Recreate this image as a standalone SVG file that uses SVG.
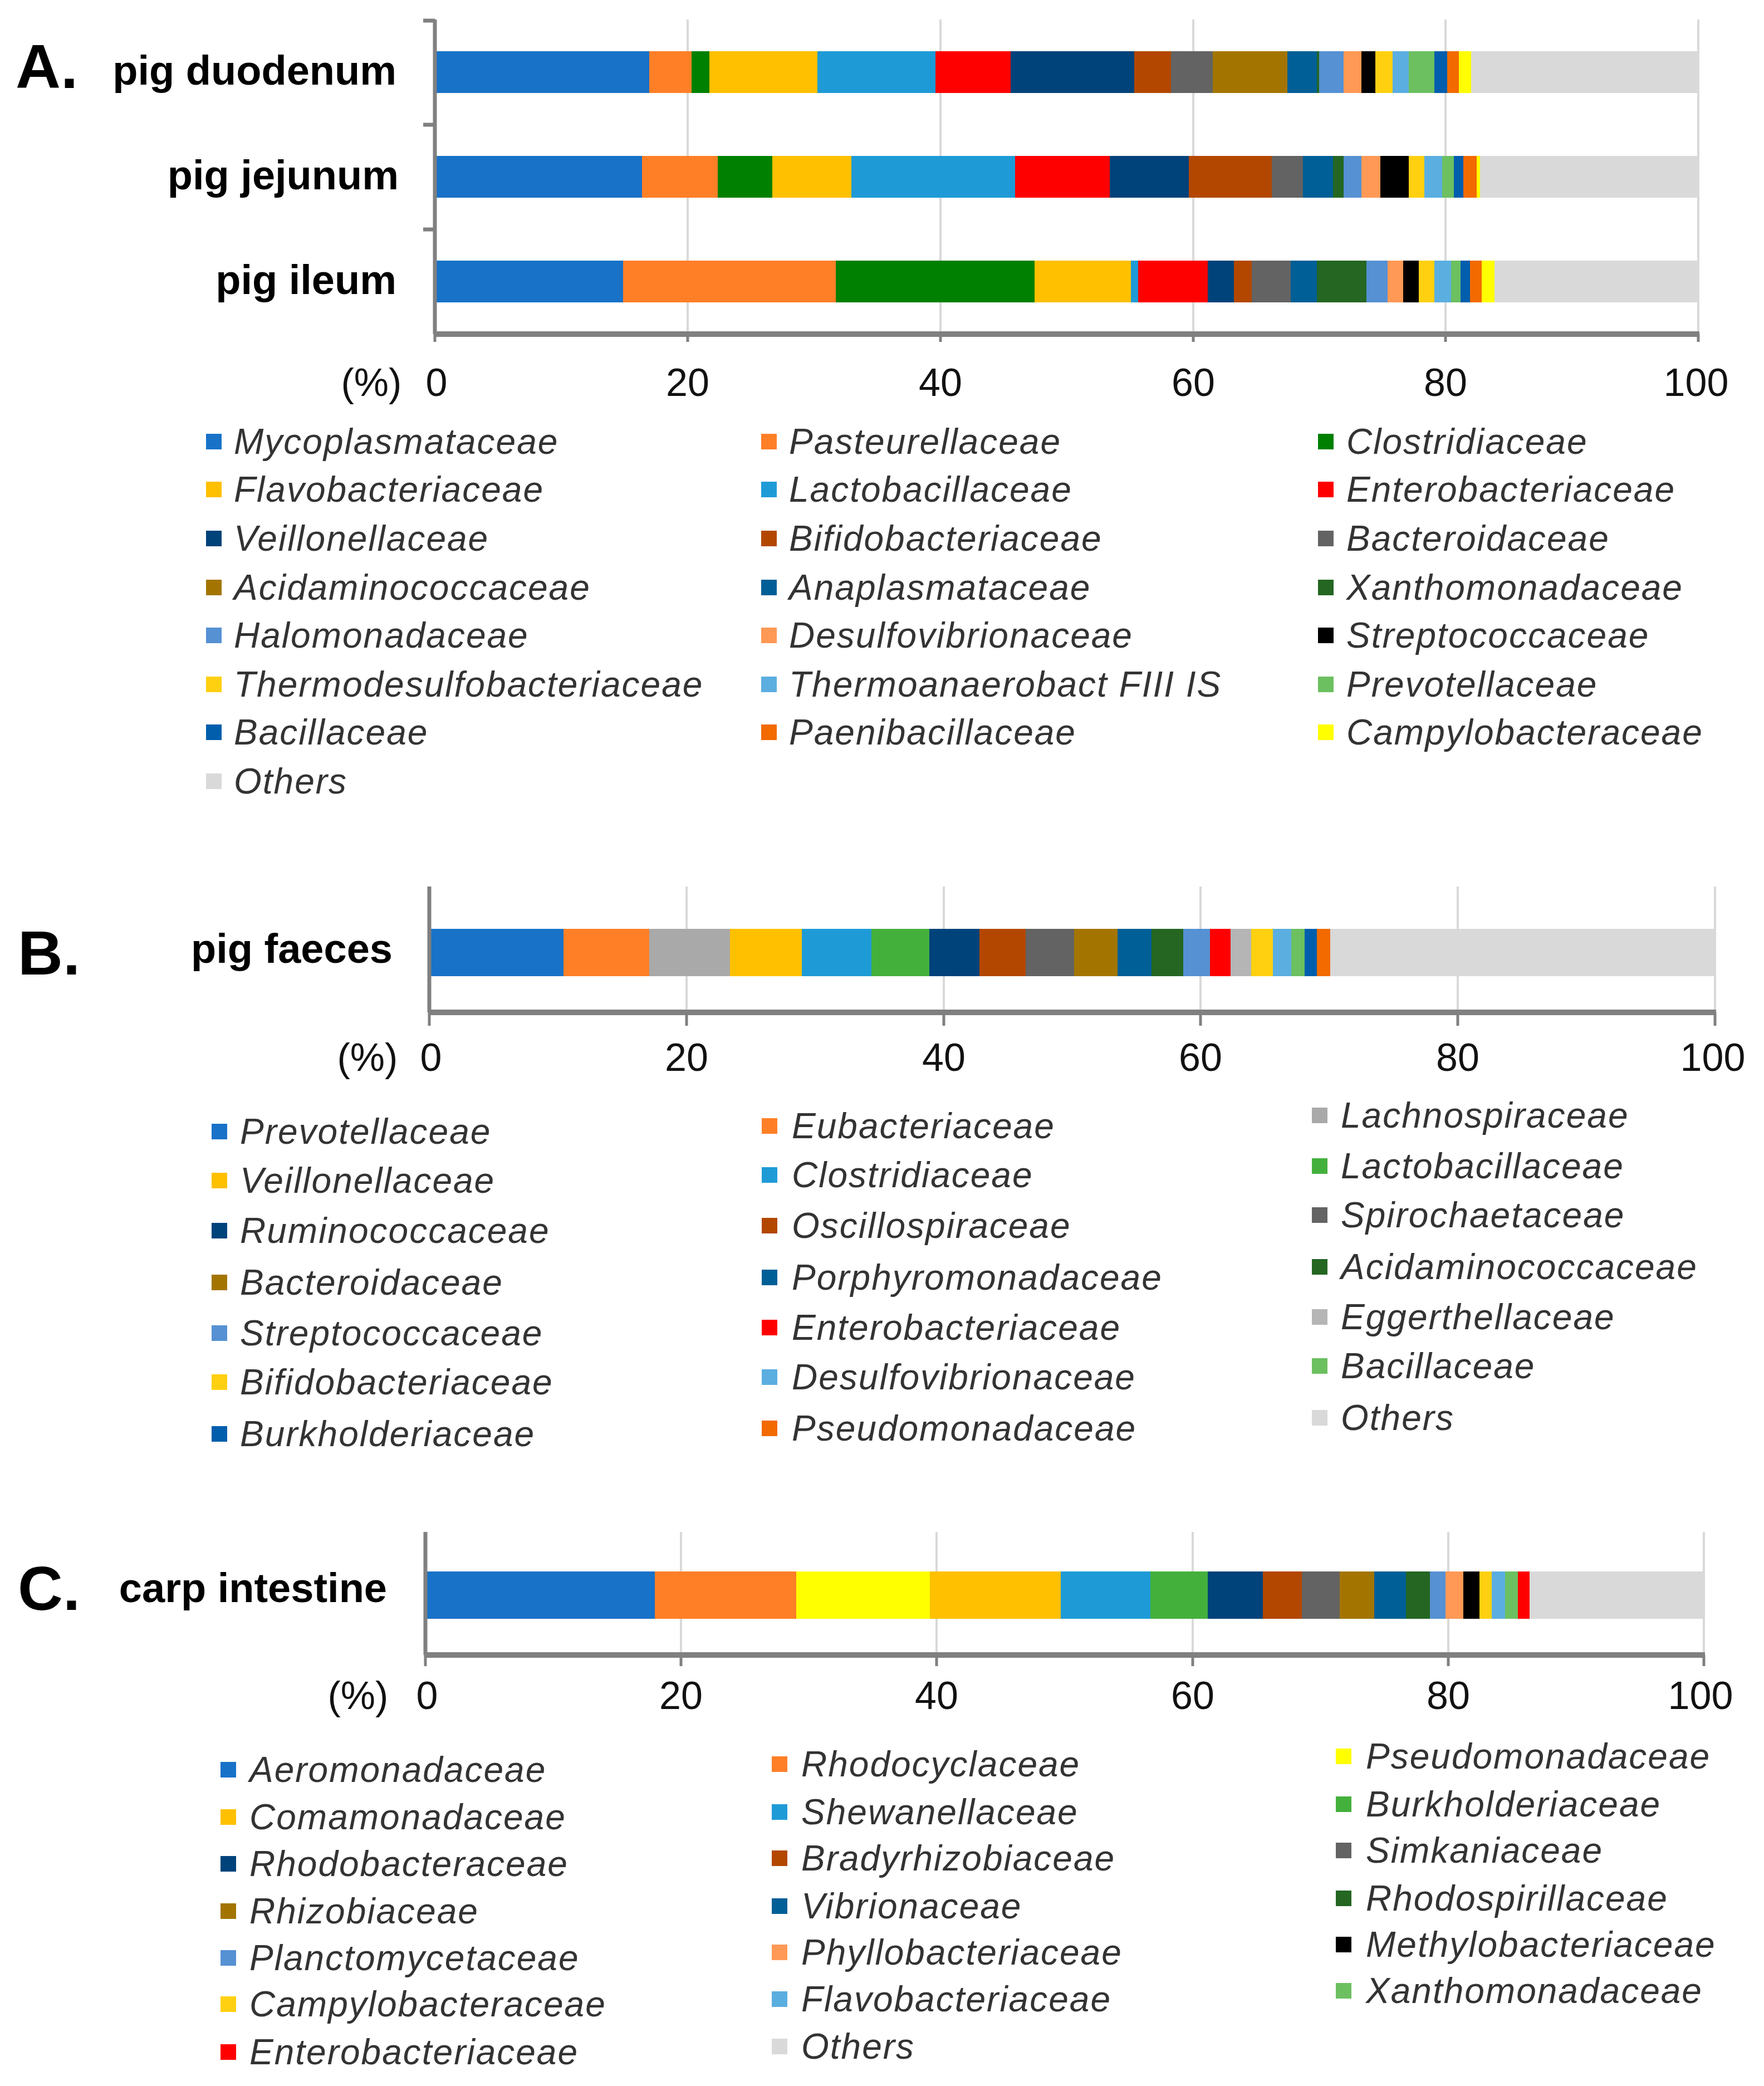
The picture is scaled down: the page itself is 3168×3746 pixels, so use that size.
<svg xmlns="http://www.w3.org/2000/svg" width="3168" height="3746" viewBox="0 0 3168 3746">
<style>
.t{font-family:"Liberation Sans",Arial,sans-serif;fill:#000}
.lab{font-size:74px;font-weight:bold;text-anchor:end}
.big{font-size:112px;font-weight:bold}
.tk{font-size:70px;text-anchor:middle;fill:#111}
.lg{font-family:"Liberation Sans",Arial,sans-serif;font-size:64px;font-style:italic;fill:#333;letter-spacing:2px}
.grid{stroke:#D9D9D9;stroke-width:4}
.ax{stroke:#808080;fill:none}
.a{fill:#1872C8}.b{fill:#FF7F27}.c{fill:#008000}.d{fill:#FFC000}.e{fill:#1E9BD7}.f{fill:#FF0000}.g{fill:#00427A}.h{fill:#B34700}.i{fill:#636363}.j{fill:#A37500}.k{fill:#005F96}.l{fill:#246622}.m{fill:#5591D3}.n{fill:#FF9955}.o{fill:#000}.p{fill:#FFD010}.q{fill:#5BAEE0}.r{fill:#6CC060}.s{fill:#005EAD}.u{fill:#F26A00}.v{fill:#FFFF00}.w{fill:#D9D9D9}.x{fill:#A9A9A9}.y{fill:#44B03C}.z{fill:#B5B5B5}
</style>
<rect width="3168" height="3746" fill="#fff"/>

<g id="panelA">
<g id="gridA">
<line class="grid" x1="1235" y1="35" x2="1235" y2="598"/><line class="grid" x1="1689" y1="35" x2="1689" y2="598"/><line class="grid" x1="2143" y1="35" x2="2143" y2="598"/><line class="grid" x1="2596" y1="35" x2="2596" y2="598"/><line class="grid" x1="3050" y1="35" x2="3050" y2="598"/>
</g>
<g id="barsA" transform="translate(781,0) scale(22.69,1)" shape-rendering="crispEdges">
<g transform="translate(0,92)">
<rect class="a" x="0" width="16.97" height="75"/><rect class="b" x="16.97" width="3.35" height="75"/><rect class="c" x="20.32" width="1.42" height="75"/><rect class="d" x="21.74" width="8.52" height="75"/><rect class="e" x="30.26" width="9.35" height="75"/><rect class="f" x="39.61" width="5.94" height="75"/><rect class="g" x="45.55" width="9.8" height="75"/><rect class="h" x="55.35" width="2.91" height="75"/><rect class="i" x="58.26" width="3.29" height="75"/><rect class="j" x="61.55" width="5.93" height="75"/><rect class="k" x="67.48" width="2.33" height="75"/><rect class="l" x="69.81" width="0.19" height="75"/><rect class="m" x="70" width="1.94" height="75"/><rect class="n" x="71.94" width="1.41" height="75"/><rect class="o" x="73.35" width="1.1" height="75"/><rect class="p" x="74.45" width="1.36" height="75"/><rect class="q" x="75.81" width="1.29" height="75"/><rect class="r" x="77.1" width="2" height="75"/><rect class="s" x="79.1" width="1.03" height="75"/><rect class="u" x="80.13" width="0.9" height="75"/><rect class="v" x="81.03" width="0.97" height="75"/><rect class="w" x="82" width="18" height="75"/>
</g>
<g transform="translate(0,280)">
<rect class="a" x="0" width="16.39" height="75"/><rect class="b" x="16.39" width="6" height="75"/><rect class="c" x="22.39" width="4.32" height="75"/><rect class="d" x="26.71" width="6.26" height="75"/><rect class="e" x="32.97" width="12.97" height="75"/><rect class="f" x="45.94" width="7.48" height="75"/><rect class="g" x="53.42" width="6.26" height="75"/><rect class="h" x="59.68" width="6.58" height="75"/><rect class="i" x="66.26" width="2.45" height="75"/><rect class="k" x="68.71" width="2.39" height="75"/><rect class="l" x="71.1" width="0.84" height="75"/><rect class="m" x="71.94" width="1.41" height="75"/><rect class="n" x="73.35" width="1.49" height="75"/><rect class="o" x="74.84" width="2.26" height="75"/><rect class="p" x="77.1" width="1.22" height="75"/><rect class="q" x="78.32" width="1.42" height="75"/><rect class="r" x="79.74" width="0.91" height="75"/><rect class="s" x="80.65" width="0.77" height="75"/><rect class="u" x="81.42" width="1.03" height="75"/><rect class="v" x="82.45" width="0.26" height="75"/><rect class="w" x="82.71" width="17.29" height="75"/>
</g>
<g transform="translate(0,468)">
<rect class="a" x="0" width="14.9" height="75"/><rect class="b" x="14.9" width="16.84" height="75"/><rect class="c" x="31.74" width="15.74" height="75"/><rect class="d" x="47.48" width="7.62" height="75"/><rect class="e" x="55.1" width="0.58" height="75"/><rect class="f" x="55.68" width="5.48" height="75"/><rect class="g" x="61.16" width="2.07" height="75"/><rect class="h" x="63.23" width="1.42" height="75"/><rect class="i" x="64.65" width="3.09" height="75"/><rect class="k" x="67.74" width="2.07" height="75"/><rect class="l" x="69.81" width="3.93" height="75"/><rect class="m" x="73.74" width="1.68" height="75"/><rect class="n" x="75.42" width="1.23" height="75"/><rect class="o" x="76.65" width="1.22" height="75"/><rect class="p" x="77.87" width="1.23" height="75"/><rect class="q" x="79.1" width="1.35" height="75"/><rect class="r" x="80.45" width="0.71" height="75"/><rect class="s" x="81.16" width="0.78" height="75"/><rect class="u" x="81.94" width="0.9" height="75"/><rect class="v" x="82.84" width="1.03" height="75"/><rect class="w" x="83.87" width="16.13" height="75"/>
</g>
</g>
<g id="axesA">
<path class="ax" stroke-width="7" d="M781 35 V600 M760 37 H781 M760 224 H781 M760 412 H781"/>
<path class="ax" stroke-width="10" d="M781 600 H3052"/>
<path class="ax" stroke-width="5" d="M781 600 V614 M1235 600 V614 M1689 600 V614 M2143 600 V614 M2596 600 V614 M3050 600 V614"/>
</g>
<text class="t big" x="28" y="158">A.</text>
<text class="t lab" x="712" y="152">pig duodenum</text>
<text class="t lab" x="716" y="340">pig jejunum</text>
<text class="t lab" x="712" y="528">pig ileum</text>
<g id="ticksA">
<text class="t tk" x="667" y="711">(%)</text>
<text class="t tk" x="784" y="711">0</text><text class="t tk" x="1235" y="711">20</text><text class="t tk" x="1689" y="711">40</text><text class="t tk" x="2143" y="711">60</text><text class="t tk" x="2596" y="711">80</text><text class="t tk" x="3046" y="711">100</text>
</g>
<g id="legendA">
<rect class="a" x="370" y="779" width="28" height="28"/><text class="lg" x="420" y="815">Mycoplasmataceae</text>
<rect class="d" x="370" y="865" width="28" height="28"/><text class="lg" x="420" y="901">Flavobacteriaceae</text>
<rect class="g" x="370" y="953" width="28" height="28"/><text class="lg" x="420" y="989">Veillonellaceae</text>
<rect class="j" x="370" y="1041" width="28" height="28"/><text class="lg" x="420" y="1077">Acidaminococcaceae</text>
<rect class="m" x="370" y="1127" width="28" height="28"/><text class="lg" x="420" y="1163">Halomonadaceae</text>
<rect class="p" x="370" y="1215" width="28" height="28"/><text class="lg" x="420" y="1251">Thermodesulfobacteriaceae</text>
<rect class="s" x="370" y="1301" width="28" height="28"/><text class="lg" x="420" y="1337">Bacillaceae</text>
<rect class="w" x="370" y="1389" width="28" height="28"/><text class="lg" x="420" y="1425">Others</text>
<rect class="b" x="1367" y="779" width="28" height="28"/><text class="lg" x="1417" y="815">Pasteurellaceae</text>
<rect class="e" x="1367" y="865" width="28" height="28"/><text class="lg" x="1417" y="901">Lactobacillaceae</text>
<rect class="h" x="1367" y="953" width="28" height="28"/><text class="lg" x="1417" y="989">Bifidobacteriaceae</text>
<rect class="k" x="1367" y="1041" width="28" height="28"/><text class="lg" x="1417" y="1077">Anaplasmataceae</text>
<rect class="n" x="1367" y="1127" width="28" height="28"/><text class="lg" x="1417" y="1163">Desulfovibrionaceae</text>
<rect class="q" x="1367" y="1215" width="28" height="28"/><text class="lg" x="1417" y="1251">Thermoanaerobact FIII IS</text>
<rect class="u" x="1367" y="1301" width="28" height="28"/><text class="lg" x="1417" y="1337">Paenibacillaceae</text>
<rect class="c" x="2367" y="779" width="28" height="28"/><text class="lg" x="2418" y="815">Clostridiaceae</text>
<rect class="f" x="2367" y="865" width="28" height="28"/><text class="lg" x="2418" y="901">Enterobacteriaceae</text>
<rect class="i" x="2367" y="953" width="28" height="28"/><text class="lg" x="2418" y="989">Bacteroidaceae</text>
<rect class="l" x="2367" y="1041" width="28" height="28"/><text class="lg" x="2418" y="1077">Xanthomonadaceae</text>
<rect class="o" x="2367" y="1127" width="28" height="28"/><text class="lg" x="2418" y="1163">Streptococcaceae</text>
<rect class="r" x="2367" y="1215" width="28" height="28"/><text class="lg" x="2418" y="1251">Prevotellaceae</text>
<rect class="v" x="2367" y="1301" width="28" height="28"/><text class="lg" x="2418" y="1337">Campylobacteraceae</text>
</g>
</g>

<g id="panelB">
<g id="gridB">
<line class="grid" x1="1233" y1="1592" x2="1233" y2="1815"/><line class="grid" x1="1695" y1="1592" x2="1695" y2="1815"/><line class="grid" x1="2156" y1="1592" x2="2156" y2="1815"/><line class="grid" x1="2618" y1="1592" x2="2618" y2="1815"/><line class="grid" x1="3080" y1="1592" x2="3080" y2="1815"/>
</g>
<g id="barsB" transform="translate(771,1668) scale(23.09,1)" shape-rendering="crispEdges">
<rect class="a" x="0" width="10.45" height="85"/><rect class="b" x="10.45" width="6.65" height="85"/><rect class="x" x="17.1" width="6.3" height="85"/><rect class="d" x="23.4" width="5.57" height="85"/><rect class="e" x="28.97" width="5.42" height="85"/><rect class="y" x="34.39" width="4.51" height="85"/><rect class="g" x="38.9" width="3.87" height="85"/><rect class="h" x="42.77" width="3.62" height="85"/><rect class="i" x="46.39" width="3.74" height="85"/><rect class="j" x="50.13" width="3.42" height="85"/><rect class="k" x="53.55" width="2.64" height="85"/><rect class="l" x="56.19" width="2.46" height="85"/><rect class="m" x="58.65" width="2.06" height="85"/><rect class="f" x="60.71" width="1.61" height="85"/><rect class="z" x="62.32" width="1.62" height="85"/><rect class="p" x="63.94" width="1.67" height="85"/><rect class="q" x="65.61" width="1.42" height="85"/><rect class="r" x="67.03" width="1.03" height="85"/><rect class="s" x="68.06" width="0.97" height="85"/><rect class="u" x="69.03" width="1.03" height="85"/><rect class="w" x="70.06" width="29.94" height="85"/>
</g>
<g id="axesB">
<path class="ax" stroke-width="7" d="M771 1592 V1818"/>
<path class="ax" stroke-width="10" d="M771 1818 H3082"/>
<path class="ax" stroke-width="5" d="M771 1818 V1842 M1233 1818 V1842 M1695 1818 V1842 M2156 1818 V1842 M2618 1818 V1842 M3080 1818 V1842"/>
</g>
<text class="t big" x="32" y="1750">B.</text>
<text class="t lab" x="705" y="1729">pig faeces</text>
<g id="ticksB">
<text class="t tk" x="660" y="1923">(%)</text>
<text class="t tk" x="774" y="1923">0</text><text class="t tk" x="1233" y="1923">20</text><text class="t tk" x="1695" y="1923">40</text><text class="t tk" x="2156" y="1923">60</text><text class="t tk" x="2618" y="1923">80</text><text class="t tk" x="3076" y="1923">100</text>
</g>
<g id="legendB">
<rect class="a" x="380" y="2018" width="28" height="28"/><text class="lg" x="431" y="2054">Prevotellaceae</text>
<rect class="d" x="380" y="2106" width="28" height="28"/><text class="lg" x="431" y="2142">Veillonellaceae</text>
<rect class="g" x="380" y="2196" width="28" height="28"/><text class="lg" x="431" y="2232">Ruminococcaceae</text>
<rect class="j" x="380" y="2289" width="28" height="28"/><text class="lg" x="431" y="2325">Bacteroidaceae</text>
<rect class="m" x="380" y="2380" width="28" height="28"/><text class="lg" x="431" y="2416">Streptococcaceae</text>
<rect class="p" x="380" y="2468" width="28" height="28"/><text class="lg" x="431" y="2504">Bifidobacteriaceae</text>
<rect class="s" x="380" y="2561" width="28" height="28"/><text class="lg" x="431" y="2597">Burkholderiaceae</text>
<rect class="b" x="1368" y="2008" width="28" height="28"/><text class="lg" x="1422" y="2044">Eubacteriaceae</text>
<rect class="e" x="1368" y="2096" width="28" height="28"/><text class="lg" x="1422" y="2132">Clostridiaceae</text>
<rect class="h" x="1368" y="2187" width="28" height="28"/><text class="lg" x="1422" y="2223">Oscillospiraceae</text>
<rect class="k" x="1368" y="2280" width="28" height="28"/><text class="lg" x="1422" y="2316">Porphyromonadaceae</text>
<rect class="f" x="1368" y="2370" width="28" height="28"/><text class="lg" x="1422" y="2406">Enterobacteriaceae</text>
<rect class="q" x="1368" y="2459" width="28" height="28"/><text class="lg" x="1422" y="2495">Desulfovibrionaceae</text>
<rect class="u" x="1368" y="2551" width="28" height="28"/><text class="lg" x="1422" y="2587">Pseudomonadaceae</text>
<rect class="x" x="2356" y="1989" width="28" height="28"/><text class="lg" x="2408" y="2025">Lachnospiraceae</text>
<rect class="y" x="2356" y="2080" width="28" height="28"/><text class="lg" x="2408" y="2116">Lactobacillaceae</text>
<rect class="i" x="2356" y="2168" width="28" height="28"/><text class="lg" x="2408" y="2204">Spirochaetaceae</text>
<rect class="l" x="2356" y="2261" width="28" height="28"/><text class="lg" x="2408" y="2297">Acidaminococcaceae</text>
<rect class="z" x="2356" y="2351" width="28" height="28"/><text class="lg" x="2408" y="2387">Eggerthellaceae</text>
<rect class="r" x="2356" y="2439" width="28" height="28"/><text class="lg" x="2408" y="2475">Bacillaceae</text>
<rect class="w" x="2356" y="2532" width="28" height="28"/><text class="lg" x="2408" y="2568">Others</text>
</g>
</g>

<g id="panelC">
<g id="gridC">
<line class="grid" x1="1223" y1="2751" x2="1223" y2="2968"/><line class="grid" x1="1682" y1="2751" x2="1682" y2="2968"/><line class="grid" x1="2142" y1="2751" x2="2142" y2="2968"/><line class="grid" x1="2601" y1="2751" x2="2601" y2="2968"/><line class="grid" x1="3060" y1="2751" x2="3060" y2="2968"/>
</g>
<g id="barsC" transform="translate(764,2822) scale(22.96,1)" shape-rendering="crispEdges">
<rect class="a" x="0" width="17.96" height="85"/><rect class="b" x="17.96" width="11.04" height="85"/><rect class="v" x="29" width="10.47" height="85"/><rect class="d" x="39.47" width="10.21" height="85"/><rect class="e" x="49.68" width="7.04" height="85"/><rect class="y" x="56.72" width="4.46" height="85"/><rect class="g" x="61.18" width="4.32" height="85"/><rect class="h" x="65.5" width="3.04" height="85"/><rect class="i" x="68.54" width="2.97" height="85"/><rect class="j" x="71.51" width="2.71" height="85"/><rect class="k" x="74.22" width="2.46" height="85"/><rect class="l" x="76.68" width="1.87" height="85"/><rect class="m" x="78.55" width="1.23" height="85"/><rect class="n" x="79.78" width="1.42" height="85"/><rect class="o" x="81.2" width="1.23" height="85"/><rect class="p" x="82.43" width="0.97" height="85"/><rect class="q" x="83.4" width="1.03" height="85"/><rect class="r" x="84.43" width="1.04" height="85"/><rect class="f" x="85.47" width="0.9" height="85"/><rect class="w" x="86.37" width="13.63" height="85"/>
</g>
<g id="axesC">
<path class="ax" stroke-width="7" d="M764 2751 V2972"/>
<path class="ax" stroke-width="10" d="M764 2972 H3062"/>
<path class="ax" stroke-width="5" d="M764 2972 V2992 M1223 2972 V2992 M1682 2972 V2992 M2142 2972 V2992 M2601 2972 V2992 M3060 2972 V2992"/>
</g>
<text class="t big" x="32" y="2891">C.</text>
<text class="t lab" x="695" y="2877">carp intestine</text>
<g id="ticksC">
<text class="t tk" x="643" y="3069">(%)</text>
<text class="t tk" x="767" y="3069">0</text><text class="t tk" x="1223" y="3069">20</text><text class="t tk" x="1682" y="3069">40</text><text class="t tk" x="2142" y="3069">60</text><text class="t tk" x="2601" y="3069">80</text><text class="t tk" x="3054" y="3069">100</text>
</g>
<g id="legendC">
<rect class="a" x="396" y="3164" width="28" height="28"/><text class="lg" x="448" y="3200">Aeromonadaceae</text>
<rect class="d" x="396" y="3249" width="28" height="28"/><text class="lg" x="448" y="3285">Comamonadaceae</text>
<rect class="g" x="396" y="3333" width="28" height="28"/><text class="lg" x="448" y="3369">Rhodobacteraceae</text>
<rect class="j" x="396" y="3418" width="28" height="28"/><text class="lg" x="448" y="3454">Rhizobiaceae</text>
<rect class="m" x="396" y="3502" width="28" height="28"/><text class="lg" x="448" y="3538">Planctomycetaceae</text>
<rect class="p" x="396" y="3585" width="28" height="28"/><text class="lg" x="448" y="3621">Campylobacteraceae</text>
<rect class="f" x="396" y="3671" width="28" height="28"/><text class="lg" x="448" y="3707">Enterobacteriaceae</text>
<rect class="b" x="1386" y="3154" width="28" height="28"/><text class="lg" x="1439" y="3190">Rhodocyclaceae</text>
<rect class="e" x="1386" y="3240" width="28" height="28"/><text class="lg" x="1439" y="3276">Shewanellaceae</text>
<rect class="h" x="1386" y="3323" width="28" height="28"/><text class="lg" x="1439" y="3359">Bradyrhizobiaceae</text>
<rect class="k" x="1386" y="3409" width="28" height="28"/><text class="lg" x="1439" y="3445">Vibrionaceae</text>
<rect class="n" x="1386" y="3492" width="28" height="28"/><text class="lg" x="1439" y="3528">Phyllobacteriaceae</text>
<rect class="q" x="1386" y="3576" width="28" height="28"/><text class="lg" x="1439" y="3612">Flavobacteriaceae</text>
<rect class="w" x="1386" y="3661" width="28" height="28"/><text class="lg" x="1439" y="3697">Others</text>
<rect class="v" x="2399" y="3140" width="28" height="28"/><text class="lg" x="2453" y="3176">Pseudomonadaceae</text>
<rect class="y" x="2399" y="3226" width="28" height="28"/><text class="lg" x="2453" y="3262">Burkholderiaceae</text>
<rect class="i" x="2399" y="3309" width="28" height="28"/><text class="lg" x="2453" y="3345">Simkaniaceae</text>
<rect class="l" x="2399" y="3395" width="28" height="28"/><text class="lg" x="2453" y="3431">Rhodospirillaceae</text>
<rect class="o" x="2399" y="3478" width="28" height="28"/><text class="lg" x="2453" y="3514">Methylobacteriaceae</text>
<rect class="r" x="2399" y="3561" width="28" height="28"/><text class="lg" x="2453" y="3597">Xanthomonadaceae</text>
</g>
</g>
</svg>
